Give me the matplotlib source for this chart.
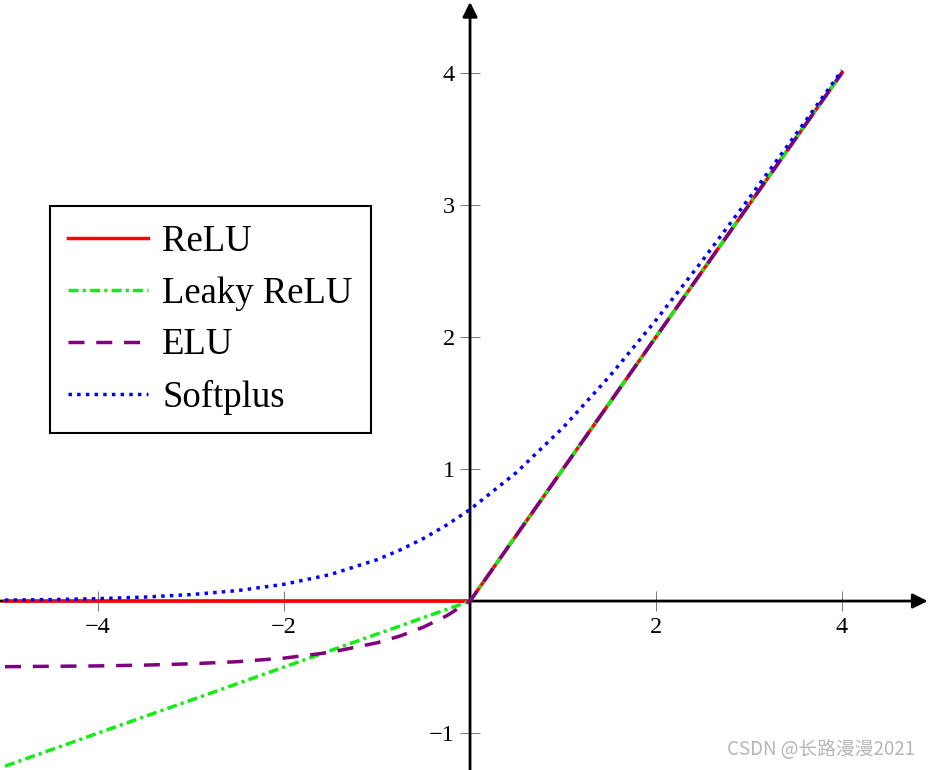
import matplotlib.pyplot as plt

x_vals = [-5, -4.5, -4, -3.5, -3, -2.5, -2, -1.5, -1, -0.75, -0.5, -0.25, 0,
          0.5, 1, 1.5, 2, 2.5, 3, 3.5, 4]
relu = [0, 0, 0, 0, 0, 0, 0, 0, 0, 0, 0, 0, 0,
        0.5, 1, 1.5, 2, 2.5, 3, 3.5, 4]
leaky_relu = [-1.25, -1.125, -1.0, -0.875, -0.75, -0.625, -0.5, -0.375, -0.25, -0.188, -0.125, -0.063, 0,
              0.5, 1, 1.5, 2, 2.5, 3, 3.5, 4]
elu = [-0.497, -0.494, -0.491, -0.485, -0.475, -0.459, -0.432, -0.388, -0.316, -0.264, -0.197, -0.111, 0,
       0.5, 1, 1.5, 2, 2.5, 3, 3.5, 4]
softplus = [0.007, 0.011, 0.018, 0.030, 0.049, 0.079, 0.127, 0.201, 0.313, 0.387, 0.474, 0.576, 0.693,
            0.974, 1.313, 1.701, 2.127, 2.579, 3.049, 3.530, 4.018]

labels = ['ReLU', 'Leaky ReLU', 'ELU', 'Softplus']
x_ticks = [-4, -2, 2, 4]
y_ticks = [-1, 1, 2, 3, 4]

plt.rcParams['font.family'] = ['Liberation Serif', 'DejaVu Serif']

fig = plt.figure(figsize=(9.33, 7.7), dpi=100)
ax = fig.add_axes([0, 0, 1, 1])

lw = 2.5
ax.plot(x_vals, relu, color='#ff0000', lw=lw, label=labels[0], zorder=3)
ax.plot(x_vals, leaky_relu, color='#11ee11', lw=lw, linestyle=(0, (2.9, 1.2, 0.9, 1.2)), label=labels[1], zorder=3)
ax.plot(x_vals, elu, color='#800080', lw=lw, linestyle=(0, (4.6, 3.4)), label=labels[2], zorder=3)
ax.plot(x_vals, softplus, color='#0000ff', lw=lw, linestyle=(0, (1.0, 1.5)), label=labels[3], zorder=3)

ax.set_xlim(-5.054, 4.978)
ax.set_ylim(-1.279, 4.55)

for side in ['left', 'bottom']:
    ax.spines[side].set_position('zero')
    ax.spines[side].set_visible(False)
for side in ['right', 'top']:
    ax.spines[side].set_visible(False)

# axis lines with arrow heads
arrow = dict(arrowstyle='-|>', color='black', lw=2, mutation_scale=22, shrinkA=0, shrinkB=0)
ax.annotate('', xy=(4.92, 0), xytext=(-5.06, 0), arrowprops=arrow, zorder=2)
ax.annotate('', xy=(0, 4.535), xytext=(0, -1.28), arrowprops=arrow, zorder=2)

ax.set_xticks(x_ticks)
ax.set_yticks(y_ticks)
ax.set_xticklabels(['\u2212' + str(abs(t)) if t < 0 else str(t) for t in x_ticks])
ax.set_yticklabels(['\u2212' + str(abs(t)) if t < 0 else str(t) for t in y_ticks])
ax.tick_params(direction='inout', length=15, width=0.7, labelsize=17.5, color='#777777')
ax.tick_params(axis='x', pad=4)
ax.tick_params(axis='y', pad=3.5)

leg = ax.legend(loc='upper left', bbox_to_anchor=(0.0536, 0.7325), borderaxespad=0,
                fontsize=26.5, fancybox=False, framealpha=1, edgecolor='black',
                handlelength=2.15, handletextpad=0.4, borderpad=0.5, labelspacing=0.47)
leg.get_frame().set_linewidth(1.5)
leg.set_zorder(5)

fig.text(0.981, 0.026, 'CSDN @长路漫漫2021', ha='right', va='center', fontsize=13.5,
         color='#aaaaaa', alpha=0.85, family=['Noto Sans CJK SC', 'DejaVu Sans'])

fig.savefig('out.png', dpi=100)
